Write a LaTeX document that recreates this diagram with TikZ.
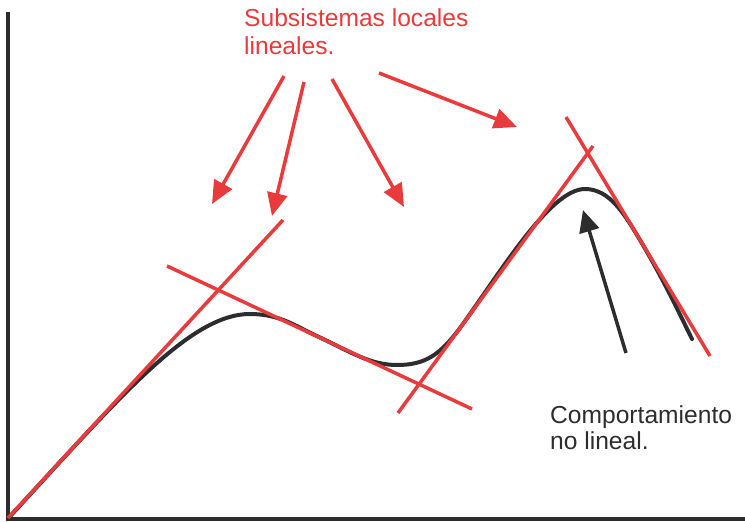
\documentclass[tikz,border=0pt]{standalone}
\usepackage{fontspec}
\setmainfont{Liberation Sans}
\usetikzlibrary{arrows.meta}
\definecolor{myred}{RGB}{233,58,60}
\definecolor{mydark}{RGB}{45,45,48}
\tikzset{
  axisline/.style={draw=mydark, line width=4pt},
  tangent/.style={draw=myred, line width=3.5pt},
  curveline/.style={draw=mydark, line width=4pt, line cap=round},
  redarrow/.style={draw=myred, line width=3.5pt, -{Triangle[length=23pt,width=20pt]}},
  darkarrow/.style={draw=mydark, line width=3.5pt, -{Triangle[length=22pt,width=20pt]}},
  lbl/.style={inner sep=0pt, anchor=north west, align=left, font=\fontsize{24.6}{27}\selectfont}
}
\begin{document}
\begin{tikzpicture}[x=1pt, y=-1pt]
\useasboundingbox (0,0) rectangle (745,522);
% axes
\coordinate (top) at (8,12);
\coordinate (orig) at (8,518.5);
\coordinate (right) at (745,518.5);
\draw[axisline] (top) -- (8,520);
\draw[axisline] (6,518.5) -- (right);
% black curve
\draw[curveline] (orig) .. controls (120,397) and (190,314) .. (250,314)
  .. controls (280,314) and (295,326) .. (320,337.5)
  .. controls (350,351.6) and (370,365) .. (397,365)
  .. controls (425,365) and (440,355) .. (460,328)
  .. controls (500,273) and (550,189) .. (585,189)
  .. controls (610,189) and (625,215) .. (640,240)
  .. controls (665,282) and (680,315) .. (692,339);
% tangent lines
\coordinate (t1a) at (8,518);   \coordinate (t1b) at (283,220);
\coordinate (t2a) at (167,266); \coordinate (t2b) at (472,409);
\coordinate (t3a) at (398,413); \coordinate (t3b) at (593,146);
\coordinate (t4a) at (566,117); \coordinate (t4b) at (710,356);
\draw[tangent] (t1a) -- (t1b);
\draw[tangent] (t2a) -- (t2b);
\draw[tangent] (t3a) -- (t3b);
\draw[tangent] (t4a) -- (t4b);
% labels
\node[lbl, text=myred, font=\fontsize{24.6}{28.5}\selectfont] (sub) at (244,8) {Subsistemas locales\\lineales.};
\node[lbl, text=mydark, font=\fontsize{24.6}{26.5}\selectfont] (comp) at (550,405) {Comportamiento\\no lineal.};
% red arrows
\coordinate (a1s) at (284,76);  \coordinate (a1e) at (212,204);
\coordinate (a2s) at (304,82);  \coordinate (a2e) at (272,216);
\coordinate (a3s) at (332,79);  \coordinate (a3e) at (404,207);
\coordinate (a4s) at (379,73);  \coordinate (a4e) at (517,127);
\draw[redarrow] (a1s) -- (a1e);
\draw[redarrow] (a2s) -- (a2e);
\draw[redarrow] (a3s) -- (a3e);
\draw[redarrow] (a4s) -- (a4e);
% black arrow
\coordinate (bs) at (626,353); \coordinate (be) at (583,210);
\draw[darkarrow] (bs) -- (be);
\end{tikzpicture}
\end{document}
